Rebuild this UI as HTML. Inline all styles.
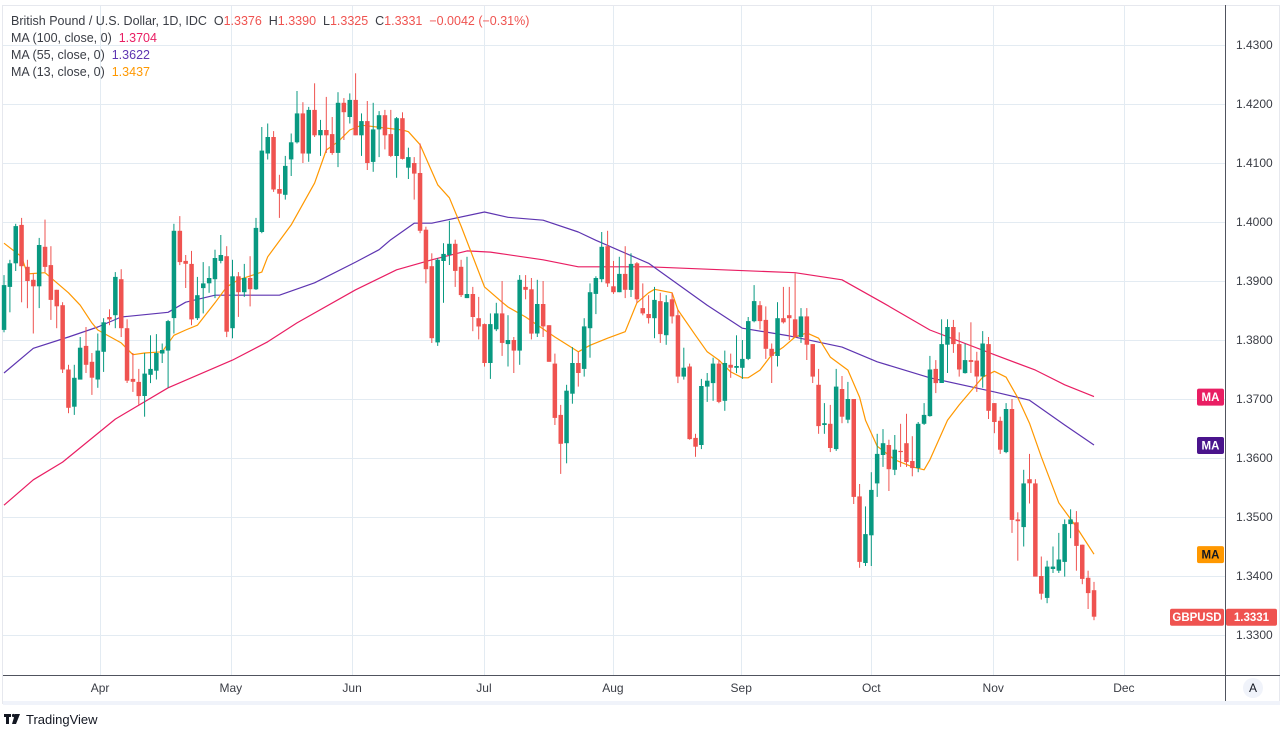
<!DOCTYPE html>
<html><head><meta charset="utf-8">
<style>
html,body{margin:0;padding:0;background:#fff;}
body{width:1282px;height:733px;overflow:hidden;font-family:"Liberation Sans",sans-serif;}
svg text{font-family:"Liberation Sans",sans-serif;}
.pre{white-space:pre;}
</style></head>
<body>
<svg id="chart" width="1282" height="733" viewBox="0 0 1282 733" xmlns="http://www.w3.org/2000/svg">
  <rect x="2.5" y="5.5" width="1277" height="698" fill="#fff" stroke="#e6e8ee"/>
  <g id="grid"></g>
  <g id="malines"></g>
  <g id="candles"></g>
  <line x1="1225.5" y1="5" x2="1225.5" y2="703" stroke="#50535e"/>
  <line x1="3" y1="675.5" x2="1280" y2="675.5" stroke="#50535e"/>
  <rect x="3" y="701" width="1277" height="4" fill="#f0f3fa"/>
  <g id="yaxis"></g>
  <g id="xaxis"></g>
  <g id="tags"></g>
  <circle cx="1253" cy="688" r="10" fill="#f0f3fa"/>
  <text x="1253" y="692" font-size="12" fill="#131722" text-anchor="middle">A</text>
  <g font-size="12.5">
    <text class="pre" x="11" y="25" fill="#3a3d45">British Pound / U.S. Dollar, 1D, IDC  O<tspan fill="#ef5350">1.3376</tspan>  H<tspan fill="#ef5350">1.3390</tspan>  L<tspan fill="#ef5350">1.3325</tspan>  C<tspan fill="#ef5350">1.3331  −0.0042 (−0.31%)</tspan></text>
    <text class="pre" x="11" y="42" fill="#3a3d45">MA (100, close, 0)  <tspan fill="#e91e63">1.3704</tspan></text>
    <text class="pre" x="11" y="59" fill="#3a3d45">MA (55, close, 0)  <tspan fill="#5e35b1">1.3622</tspan></text>
    <text class="pre" x="11" y="76" fill="#3a3d45">MA (13, close, 0)  <tspan fill="#ff9800">1.3437</tspan></text>
  </g>
  <g>
    <rect x="4" y="714" width="7" height="3" fill="#131722"/>
    <rect x="6" y="714" width="3" height="10" fill="#131722"/>
    <circle cx="13.5" cy="715.5" r="1.6" fill="#131722"/>
    <polygon points="15,714 20,714 16,724 12,724" fill="#131722"/>
    <text x="26" y="724" font-size="13" fill="#131722">TradingView</text>
  </g>
</svg>
<script>
const opens=[1.3817,1.3890,1.3930,1.3995,1.3924,1.3902,1.3891,1.3958,1.3927,1.3885,1.3859,1.3750,1.3687,1.3733,1.3790,1.3763,1.3733,1.3780,1.3839,1.3842,1.3903,1.3820,1.3734,1.3729,1.3705,1.3741,1.3748,1.3777,1.3782,1.3837,1.3985,1.3934,1.3929,1.3837,1.3888,1.3896,1.3903,1.3934,1.3942,1.3820,1.3908,1.3881,1.3905,1.3886,1.3983,1.4116,1.4144,1.4056,1.4046,1.4106,1.4135,1.4184,1.4116,1.4190,1.4147,1.4156,1.4149,1.4117,1.4202,1.4178,1.4207,1.4147,1.4171,1.4102,1.4157,1.4181,1.4149,1.4112,1.4176,1.4092,1.4100,1.4083,1.3987,1.3925,1.3796,1.3934,1.3944,1.3963,1.3924,1.3871,1.3878,1.3837,1.3827,1.3761,1.3818,1.3845,1.3793,1.3800,1.3782,1.3890,1.3886,1.3811,1.3861,1.3825,1.3760,1.3673,1.3625,1.3709,1.3761,1.3751,1.3820,1.3878,1.3903,1.3959,1.3891,1.3881,1.3912,1.3885,1.3930,1.3854,1.3844,1.3837,1.3866,1.3808,1.3869,1.3842,1.3738,1.3755,1.3634,1.3622,1.3721,1.3727,1.3760,1.3697,1.3758,1.3753,1.3753,1.3768,1.3832,1.3859,1.3834,1.3785,1.3773,1.3837,1.3842,1.3835,1.3805,1.3840,1.3793,1.3724,1.3656,1.3658,1.3615,1.3717,1.3665,1.3700,1.3535,1.3422,1.3469,1.3557,1.3605,1.3622,1.3580,1.3612,1.3625,1.3595,1.3583,1.3658,1.3671,1.3751,1.3727,1.3792,1.3822,1.3793,1.3744,1.3766,1.3765,1.3738,1.3793,1.3693,1.3663,1.3610,1.3683,1.3496,1.3483,1.3564,1.3557,1.3400,1.3363,1.3412,1.3409,1.3424,1.3488,1.3491,1.3453,1.3397,1.3376];
const highs=[1.3910,1.3936,1.3997,1.4007,1.3936,1.3913,1.3973,1.4004,1.3959,1.3885,1.3864,1.3758,1.3758,1.3805,1.3822,1.3778,1.3811,1.3837,1.3852,1.3915,1.3920,1.3835,1.3778,1.3751,1.3778,1.3808,1.3810,1.3794,1.3834,1.3997,1.4010,1.3944,1.3951,1.3907,1.3932,1.3925,1.3953,1.3978,1.3959,1.3936,1.3915,1.3929,1.3942,1.4007,1.4161,1.4167,1.4154,1.4080,1.4112,1.4150,1.4222,1.4203,1.4195,1.4235,1.4173,1.4212,1.4178,1.4220,1.4210,1.4218,1.4252,1.4184,1.4205,1.4202,1.4188,1.4190,1.4190,1.4178,1.4186,1.4126,1.4110,1.4133,1.3992,1.3947,1.3939,1.3964,1.4002,1.3970,1.3936,1.3941,1.3890,1.3873,1.3828,1.3845,1.3863,1.3900,1.3842,1.3805,1.3910,1.3910,1.3905,1.3902,1.3900,1.3825,1.3777,1.3690,1.3724,1.3788,1.3780,1.3837,1.3896,1.3908,1.3983,1.3985,1.3934,1.3941,1.3959,1.3947,1.3932,1.3896,1.3876,1.3890,1.3880,1.3876,1.3880,1.3851,1.3787,1.3760,1.3641,1.3734,1.3744,1.3770,1.3766,1.3782,1.3777,1.3808,1.3800,1.3839,1.3893,1.3866,1.3857,1.3794,1.3864,1.3890,1.3890,1.3913,1.3854,1.3854,1.3793,1.3751,1.3693,1.3690,1.3751,1.3739,1.3729,1.3700,1.3556,1.3518,1.3576,1.3641,1.3649,1.3631,1.3639,1.3658,1.3675,1.3637,1.3661,1.3693,1.3773,1.3766,1.3835,1.3835,1.3834,1.3813,1.3794,1.3830,1.3780,1.3815,1.3805,1.3693,1.3670,1.3693,1.3700,1.3508,1.3580,1.3607,1.3564,1.3433,1.3426,1.3450,1.3473,1.3496,1.3513,1.3510,1.3453,1.3409,1.3390];
const lows=[1.3813,1.3847,1.3917,1.3864,1.3854,1.3811,1.3854,1.3915,1.3834,1.3820,1.3744,1.3676,1.3673,1.3733,1.3744,1.3707,1.3719,1.3746,1.3825,1.3820,1.3805,1.3727,1.3712,1.3690,1.3670,1.3727,1.3733,1.3761,1.3719,1.3811,1.3927,1.3888,1.3825,1.3834,1.3845,1.3880,1.3871,1.3930,1.3805,1.3803,1.3839,1.3873,1.3857,1.3885,1.3981,1.4106,1.4051,1.4007,1.4038,1.4078,1.4133,1.4100,1.4102,1.4144,1.4112,1.4117,1.4114,1.4093,1.4139,1.4167,1.4147,1.4112,1.4088,1.4085,1.4110,1.4123,1.4110,1.4075,1.4106,1.4073,1.4038,1.3981,1.3896,1.3795,1.3790,1.3863,1.3927,1.3890,1.3873,1.3871,1.3815,1.3801,1.3755,1.3734,1.3815,1.3773,1.3755,1.3744,1.3758,1.3869,1.3801,1.3805,1.3805,1.3763,1.3656,1.3573,1.3591,1.3692,1.3721,1.3738,1.3770,1.3844,1.3898,1.3890,1.3878,1.3881,1.3871,1.3873,1.3863,1.3842,1.3828,1.3803,1.3795,1.3792,1.3828,1.3727,1.3733,1.3631,1.3602,1.3615,1.3695,1.3697,1.3693,1.3680,1.3736,1.3744,1.3734,1.3766,1.3830,1.3818,1.3768,1.3727,1.3755,1.3828,1.3800,1.3805,1.3795,1.3766,1.3727,1.3641,1.3641,1.3610,1.3612,1.3659,1.3659,1.3522,1.3414,1.3417,1.3417,1.3534,1.3585,1.3544,1.3571,1.3585,1.3585,1.3569,1.3576,1.3656,1.3670,1.3710,1.3727,1.3744,1.3778,1.3738,1.3743,1.3744,1.3712,1.3719,1.3666,1.3642,1.3607,1.3608,1.3473,1.3426,1.3450,1.3523,1.3399,1.3360,1.3354,1.3405,1.3405,1.3399,1.3464,1.3409,1.3386,1.3344,1.3325];
const closes=[1.3893,1.3930,1.3993,1.3925,1.3900,1.3891,1.3961,1.3924,1.3868,1.3857,1.3750,1.3685,1.3736,1.3787,1.3758,1.3736,1.3782,1.3830,1.3835,1.3907,1.3820,1.3731,1.3729,1.3705,1.3743,1.3751,1.3778,1.3783,1.3832,1.3985,1.3932,1.3929,1.3835,1.3876,1.3896,1.3905,1.3939,1.3944,1.3814,1.3908,1.3881,1.3905,1.3886,1.3990,1.4121,1.4144,1.4055,1.4048,1.4095,1.4135,1.4184,1.4116,1.4190,1.4147,1.4156,1.4147,1.4117,1.4202,1.4186,1.4207,1.4147,1.4171,1.4100,1.4157,1.4181,1.4147,1.4112,1.4176,1.4107,1.4110,1.4082,1.3985,1.3920,1.3803,1.3936,1.3946,1.3963,1.3917,1.3876,1.3878,1.3839,1.3823,1.3761,1.3827,1.3845,1.3795,1.3800,1.3782,1.3902,1.3885,1.3811,1.3861,1.3823,1.3763,1.3668,1.3624,1.3714,1.3761,1.3744,1.3823,1.3881,1.3905,1.3958,1.3896,1.3881,1.3912,1.3885,1.3929,1.3869,1.3845,1.3837,1.3868,1.3810,1.3864,1.3840,1.3738,1.3753,1.3632,1.3619,1.3722,1.3731,1.3760,1.3695,1.3761,1.3753,1.3756,1.3768,1.3832,1.3866,1.3832,1.3785,1.3773,1.3837,1.3830,1.3837,1.3805,1.3840,1.3792,1.3738,1.3654,1.3659,1.3617,1.3721,1.3670,1.3700,1.3534,1.3424,1.3471,1.3546,1.3607,1.3625,1.3581,1.3614,1.3610,1.3593,1.3583,1.3658,1.3673,1.3750,1.3727,1.3793,1.3822,1.3793,1.3750,1.3766,1.3763,1.3738,1.3794,1.3680,1.3661,1.3614,1.3683,1.3495,1.3493,1.3557,1.3557,1.3399,1.3370,1.3416,1.3416,1.3428,1.3488,1.3496,1.3451,1.3395,1.3371,1.3331];

const ma100Idx=[0,5,10,19,28,39,45,50,60,67,73,79,83,92,98,110,120,135,143,150,158,169,176,181,186];
const ma100Val=[1.3520,1.3563,1.3593,1.3666,1.3719,1.3766,1.3797,1.3829,1.3885,1.3919,1.3936,1.3951,1.3949,1.3936,1.3924,1.3924,1.3920,1.3914,1.3902,1.3863,1.3817,1.3775,1.3749,1.3724,1.3704];
const ma55Idx=[0,5,11,16,20,28,31,36,41,47,53,60,64,66,70,73,82,86,92,98,101,110,120,126,134,143,149,158,169,175,181,186];
const ma55Val=[1.3744,1.3786,1.3805,1.3822,1.3839,1.3847,1.3864,1.3876,1.3876,1.3876,1.3897,1.3932,1.3953,1.3970,1.3998,1.3998,1.4017,1.4008,1.4003,1.3983,1.3969,1.3930,1.3859,1.3820,1.3807,1.3788,1.3763,1.3736,1.3712,1.3698,1.3656,1.3622];
const ma13Idx=[0,3,4,7,11,13,15,16,20,22,24,27,29,31,33,36,38,40,44,45,49,53,55,57,59,61,68,69,71,74,76,78,82,85,86,89,94,98,100,103,106,108,110,111,114,115,118,120,122,124,126,127,129,131,133,135,137,139,141,144,146,147,149,152,155,157,158,161,163,167,169,171,173,175,177,180,183,186];
const ma13Val=[1.3964,1.3941,1.3912,1.3914,1.3880,1.3859,1.3829,1.3817,1.3795,1.3775,1.3778,1.3780,1.3808,1.3817,1.3825,1.3863,1.3890,1.3902,1.3915,1.3941,1.3995,1.4066,1.4122,1.4136,1.4156,1.4164,1.4156,1.4153,1.4131,1.4063,1.4041,1.3993,1.3890,1.3864,1.3856,1.3839,1.3805,1.3780,1.3791,1.3803,1.3814,1.3863,1.3880,1.3886,1.3880,1.3851,1.3808,1.3780,1.3766,1.3746,1.3736,1.3736,1.3749,1.3775,1.3788,1.3805,1.3812,1.3803,1.3771,1.3749,1.3703,1.3664,1.3620,1.3597,1.3585,1.3580,1.3597,1.3664,1.3690,1.3737,1.3747,1.3737,1.3702,1.3659,1.3602,1.3524,1.3483,1.3437];

const priceTicks=[1.43,1.42,1.41,1.40,1.39,1.38,1.37,1.36,1.35,1.34,1.33];
const monthLabels=['Apr','May','Jun','Jul','Aug','Sep','Oct','Nov','Dec'];
const monthIdx=[16.4,38.7,59.4,81.9,103.9,125.8,148,168.8,191.1];

const NS='http://www.w3.org/2000/svg';
const X0=4, X1=1094, PTOP=1.43, YTOP=45, PXPERUNIT=5900;
const step=(X1-X0)/(closes.length-1);
function xs(i){return X0+i*step;}
function ys(p){return YTOP+(PTOP-p)*PXPERUNIT;}
function mk(tag,attrs,parent){const e=document.createElementNS(NS,tag);for(const k in attrs)e.setAttribute(k,attrs[k]);parent.appendChild(e);return e;}

const grid=document.getElementById('grid');
priceTicks.forEach(p=>{
  const l=mk('line',{x1:3,x2:1225,y1:ys(p)+0.5,y2:ys(p)+0.5,stroke:'#e3ebf2','stroke-width':1},grid);
  
  
});
monthIdx.forEach(i=>{
  const x=Math.round(xs(i))+0.5;
  if(x>1224)return;
  const l=mk('line',{x1:x,x2:x,y1:6,y2:675,stroke:'#e3ebf2','stroke-width':1},grid);
  
  
});

const yaxis=document.getElementById('yaxis');
priceTicks.forEach(p=>{
  const t=mk('text',{x:1236,y:ys(p)+4,'font-size':12,fill:'#3a3d45'},yaxis);
  t.textContent=p.toFixed(4);
  
  
});
const xaxis=document.getElementById('xaxis');
monthLabels.forEach((m,k)=>{
  const t=mk('text',{x:xs(monthIdx[k]),y:692,'font-size':12,fill:'#3a3d45','text-anchor':'middle'},xaxis);
  t.textContent=m;
  
  
});

const mag=document.getElementById('malines');
function drawMA(idx,val,color,name){
  const pts=idx.map((i,k)=>xs(i).toFixed(1)+','+ys(val[k]).toFixed(1)).join(' ');
  const pl=mk('polyline',{points:pts,fill:'none',stroke:color,'stroke-width':1.2,'stroke-linejoin':'round'},mag);
  
  
}
drawMA(ma100Idx,ma100Val,'#e91e63','ma100-line');
drawMA(ma55Idx,ma55Val,'#5e35b1','ma55-line');
drawMA(ma13Idx,ma13Val,'#ff9800','ma13-line');

const cg=document.getElementById('candles');
closes.forEach((c,i)=>{
  const o=opens[i],h=highs[i],l=lows[i];
  const col=c>=o?'#089981':'#ef5350';
  const x=xs(i);
  const g=mk('g',{},cg);
  
  
  mk('rect',{x:(x-0.5).toFixed(1),y:ys(h).toFixed(1),width:1,height:Math.max(1,ys(l)-ys(h)).toFixed(1),fill:col},g);
  const top=ys(Math.max(o,c)),bot=ys(Math.min(o,c));
  mk('rect',{x:(x-2.25).toFixed(1),y:top.toFixed(1),width:4.5,height:Math.max(1,bot-top).toFixed(1),fill:col},g);
});

const tags=document.getElementById('tags');
function tag(x,w,p,fill,txtCol,label,name){
  const y=ys(p);
  const g=mk('g',{},tags);
  
  
  mk('rect',{x:x,y:y-8,width:w,height:17,rx:2,fill:fill},g);
  const t=mk('text',{x:x+w/2,y:y+4.5,'font-size':11.5,'font-weight':'bold',fill:txtCol,'text-anchor':'middle'},g);
  t.textContent=label;
}
tag(1197,27,ma100Val[ma100Val.length-1],'#e91e63','#fff','MA','ma100-tag');
tag(1197,27,ma55Val[ma55Val.length-1],'#4a148c','#fff','MA','ma55-tag');
tag(1197,27,ma13Val[ma13Val.length-1],'#ff9800','#131722','MA','ma13-tag');
tag(1170,54,closes[closes.length-1],'#ef5350','#fff','GBPUSD','symbol-tag');
tag(1226,51,closes[closes.length-1],'#ef5350','#fff',closes[closes.length-1].toFixed(4),'last-price-tag');
</script>
</body></html>
